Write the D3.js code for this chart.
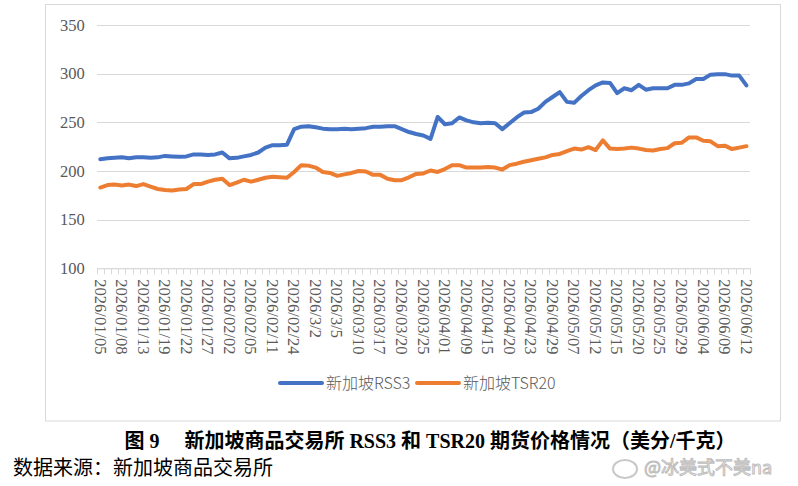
<!DOCTYPE html>
<html>
<head>
<meta charset="utf-8">
<script src="https://cdn.jsdelivr.net/npm/d3@7"></script>
<style>
  body { margin: 0; background: #fff; }
  svg { display: block; }
</style>
</head>
<body>
<div id="chart"></div>
<script>
// trading days (only every 3rd one gets a label on the axis)
var dates = [
  "2026/01/05","2026/01/06","2026/01/07","2026/01/08","2026/01/09","2026/01/12","2026/01/13","2026/01/14","2026/01/16",
  "2026/01/19","2026/01/20","2026/01/21","2026/01/22","2026/01/23","2026/01/26","2026/01/27","2026/01/28","2026/01/29",
  "2026/02/02","2026/02/03","2026/02/04","2026/02/05","2026/02/06","2026/02/09","2026/02/11","2026/02/12","2026/02/13",
  "2026/02/24","2026/02/25","2026/02/27","2026/3/2","2026/3/3","2026/3/4","2026/3/5","2026/03/06","2026/03/09",
  "2026/03/10","2026/03/11","2026/03/16","2026/03/17","2026/03/18","2026/03/19","2026/03/20","2026/03/23","2026/03/24",
  "2026/03/25","2026/03/26","2026/03/27","2026/04/01","2026/04/02","2026/04/06","2026/04/09","2026/04/10","2026/04/14",
  "2026/04/15","2026/04/16","2026/04/17","2026/04/20","2026/04/21","2026/04/22","2026/04/23","2026/04/24","2026/04/28",
  "2026/04/29","2026/04/30","2026/05/06","2026/05/07","2026/05/08","2026/05/11","2026/05/12","2026/05/13","2026/05/14",
  "2026/05/15","2026/05/18","2026/05/19","2026/05/20","2026/05/21","2026/05/22","2026/05/25","2026/05/26","2026/05/27",
  "2026/05/29","2026/06/02","2026/06/03","2026/06/04","2026/06/05","2026/06/08","2026/06/09","2026/06/10","2026/06/11",
  "2026/06/12"
];

var rss3 = [
  212, 213, 213.5, 214, 213, 214, 214, 213.5, 214,
  215.5, 215, 214.5, 215, 217, 217, 216.5, 217, 219,
  213, 213.5, 215, 216.5, 219, 224, 226.5, 226.5, 227,
  243, 245.5, 246, 245, 243.5, 243, 243, 243.5, 243,
  243.5, 244, 245.5, 245.5, 246, 246, 243, 240, 238,
  236.5, 233, 255.5, 248, 249, 255, 252, 250, 249,
  249.5, 249, 243, 249, 255, 260, 260.5, 264, 271,
  276, 281, 271, 270, 277, 283, 288, 291, 290.5,
  280, 285, 283, 288.5, 283.5, 285, 285, 285, 288.5,
  288.5, 290, 294.5, 294.5, 299, 299.5, 299.5, 298, 298,
  288
];

var tsr20 = [
  183, 185.5, 186, 185, 186, 184.5, 186.5, 184, 181.5,
  180.5, 180, 181, 181.5, 186.5, 186.5, 189, 191, 192,
  185.5, 188, 191, 189, 191, 193, 194, 193.5, 193,
  199, 206, 205.5, 203.5, 199, 198, 195, 196.5, 198,
  200, 199.5, 196, 196, 192, 190.5, 190.5, 193.5, 197,
  197.5, 200.5, 199, 202, 206, 206, 203.5, 203.5, 203.5,
  204, 203.5, 201.5, 206, 207.5, 209.5, 211, 212.5, 214,
  216.5, 217.5, 220.5, 223, 222, 224.5, 221.5, 231.5, 223,
  222.5, 223, 224, 223, 221.5, 221, 222.5, 223.5, 228.5,
  229, 234.5, 234.5, 231, 230.5, 225.5, 226, 222.5, 224,
  225.5
];

var yTicks = [100, 150, 200, 250, 300, 350];
var seriesNames = ["新加坡RSS3", "新加坡TSR20"];
var seriesColors = ["#4472C4", "#ED7D31"];

var title = "图 9\u3000 新加坡商品交易所 RSS3 和 TSR20 期货价格情况（美分/千克）";
var source = "数据来源：新加坡商品交易所";

var width = 798;
var height = 486;

var svg = d3.select("#chart")
  .append("svg")
  .attr("width", width)
  .attr("height", height);

// chart frame
svg.append("rect")
  .attr("x", 45.5)
  .attr("y", 4.5)
  .attr("width", 735)
  .attr("height", 416.5)
  .attr("fill", "#fff")
  .attr("stroke", "#d9d9d9")
  .attr("stroke-width", 1);

var x = d3.scaleBand().domain(dates).range([96.7, 750]).paddingInner(0).paddingOuter(0);
var y = d3.scaleLinear().domain([100, 350]).range([268.3, 25]);

// gridlines + y labels
var yAxis = d3.axisLeft(y)
  .tickValues(yTicks)
  .tickSize(-(750 - 96.7))
  .tickPadding(12)
  .tickFormat(d3.format("d"));

var gy = svg.append("g")
  .attr("transform", "translate(96.7,0)")
  .call(yAxis);
gy.select(".domain").remove();
gy.selectAll(".tick line").attr("stroke", "#d9d9d9").attr("shape-rendering", "crispEdges");
gy.selectAll(".tick text")
  .attr("fill", "#595959")
  .style("font-family", "'Liberation Serif', 'DejaVu Serif', serif")
  .style("font-size", "16.5px");

// category axis: ticks sit on the band edges, labels every 3rd day
var xAxis = d3.axisBottom(x)
  .tickSize(0)
  .tickFormat(function (d, i) { return i % 3 === 0 ? d : ""; });

var gx = svg.append("g")
  .attr("transform", "translate(0," + y(100) + ")")
  .call(xAxis);
gx.select(".domain").attr("stroke", "#d9d9d9");
gx.selectAll(".tick text")
  .attr("fill", "#595959")
  .attr("transform", "rotate(90)")
  .attr("text-anchor", "start")
  .attr("x", 11)
  .attr("y", 0)
  .attr("dy", "0.35em")
  .style("font-family", "'Liberation Serif', 'DejaVu Serif', serif")
  .style("font-size", "16.5px");

var edges = dates.map(function (d) { return x(d); });
edges.push(x.range()[1]);
gx.selectAll(".edge")
  .data(edges)
  .enter().append("line")
  .attr("class", "edge")
  .attr("x1", function (d) { return Math.round(d) + 0.5; })
  .attr("x2", function (d) { return Math.round(d) + 0.5; })
  .attr("y1", 0)
  .attr("y2", 6)
  .attr("stroke", "#d9d9d9");

// lines
var line = d3.line()
  .x(function (d, i) { return x(dates[i]) + x.bandwidth() / 2; })
  .y(function (d) { return y(d); });

[rss3, tsr20].forEach(function (s, k) {
  svg.append("path")
    .datum(s)
    .attr("fill", "none")
    .attr("stroke", seriesColors[k])
    .attr("stroke-width", 4)
    .attr("stroke-linejoin", "round")
    .attr("stroke-linecap", "round")
    .attr("d", line);
});

// legend
var legendX = [280, 417];
var legend = svg.selectAll(".legend")
  .data(seriesNames)
  .enter().append("g")
  .attr("class", "legend")
  .attr("transform", function (d, i) { return "translate(" + legendX[i] + ",383)"; });

legend.append("line")
  .attr("x1", 0).attr("x2", 42)
  .attr("y1", 0).attr("y2", 0)
  .attr("stroke", function (d, i) { return seriesColors[i]; })
  .attr("stroke-width", 4)
  .attr("stroke-linecap", "round");

legend.append("text")
  .attr("x", 46)
  .attr("dy", "0.35em")
  .attr("fill", "#595959")
  .style("font-family", "'Noto Sans CJK SC', 'Noto Sans', sans-serif")
  .style("font-weight", 300)
  .style("font-size", "16px")
  .text(function (d) { return d; });

// caption
svg.append("text")
  .attr("x", 430)
  .attr("y", 441)
  .attr("text-anchor", "middle")
  .attr("dy", "0.35em")
  .attr("fill", "#000")
  .style("font-family", "'Liberation Serif', 'Noto Sans CJK SC', serif")
  .style("font-weight", "bold")
  .style("font-size", "20px")
  .text(title);

svg.append("text")
  .attr("x", 13)
  .attr("y", 468)
  .attr("dy", "0.35em")
  .attr("fill", "#000")
  .style("font-family", "'Noto Sans CJK SC', sans-serif")
  .style("font-size", "20px")
  .text(source);

// watermark
var wm = svg.append("g").attr("transform", "translate(611,468)");
wm.append("ellipse")
  .attr("cx", 14).attr("cy", 1).attr("rx", 12).attr("ry", 9)
  .attr("fill", "none").attr("stroke", "#c8c8c8").attr("stroke-width", 2);
wm.append("text")
  .attr("x", 33)
  .attr("dy", "0.35em")
  .attr("fill", "#fff")
  .attr("stroke", "#bdbdbd")
  .attr("stroke-width", 1)
  .style("font-family", "'Noto Sans CJK SC', sans-serif")
  .style("font-size", "18px")
  .text("@冰美式不美na");
</script>
</body>
</html>
